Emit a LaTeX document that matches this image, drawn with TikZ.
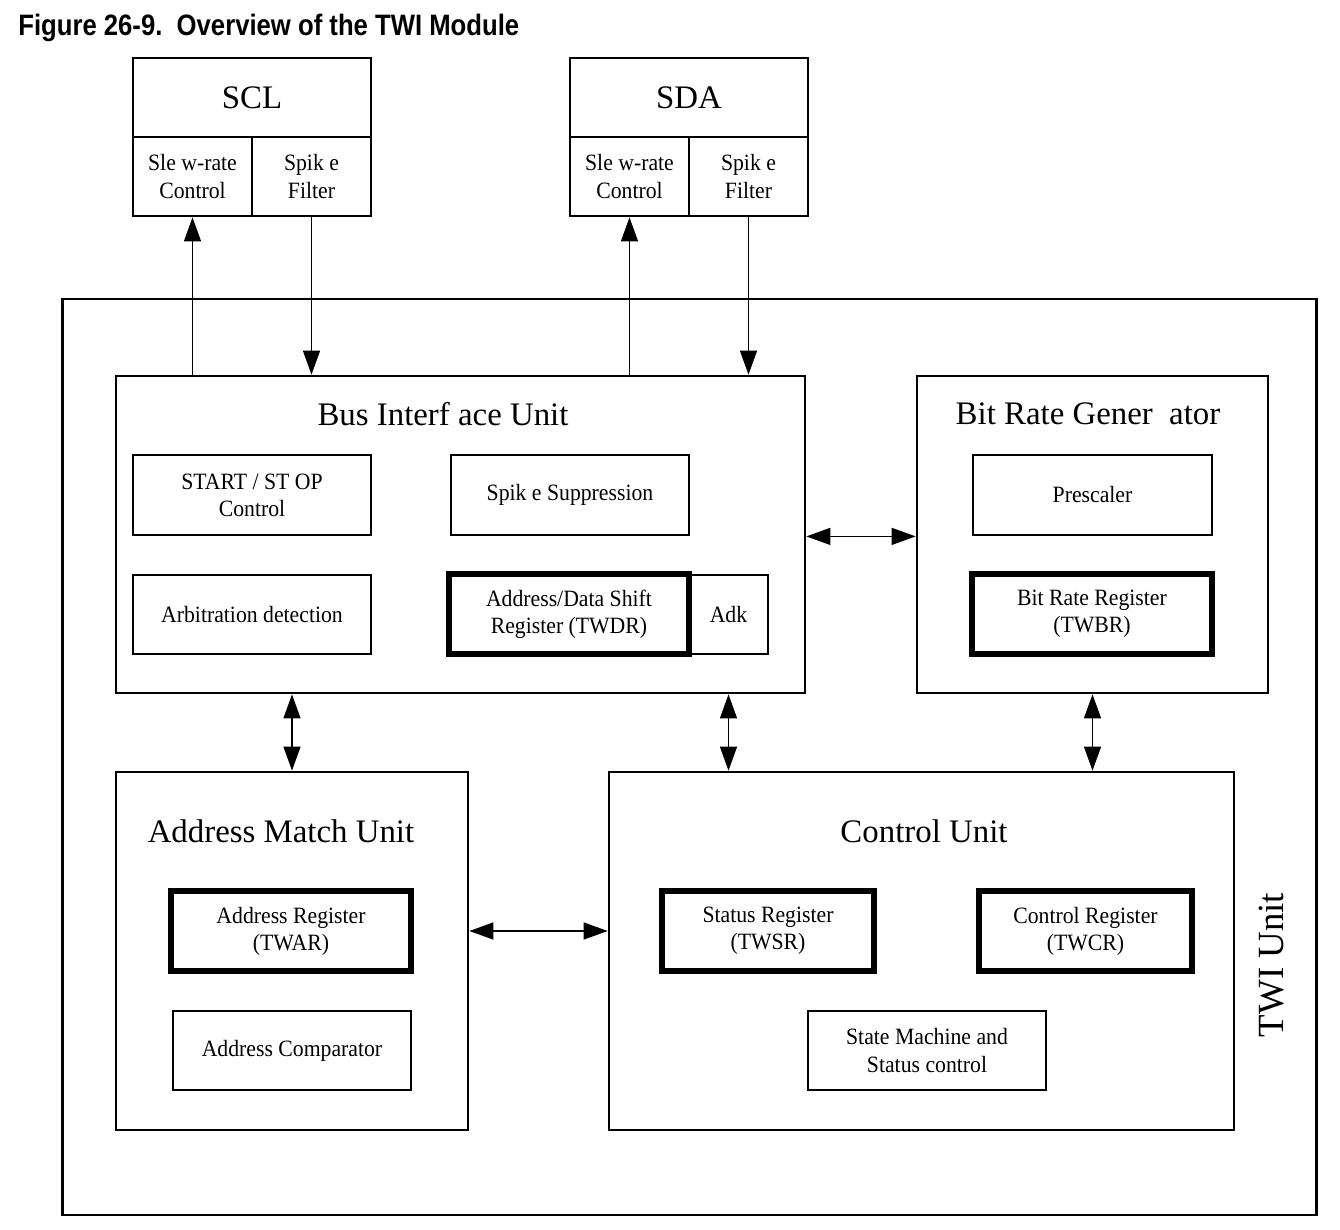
\documentclass[tikz,border=0pt]{standalone}
\usepackage{fontspec}
\setmainfont{Liberation Serif}
\newfontfamily\condfont[FakeStretch=0.93]{Liberation Serif}
\newfontfamily\titlefont[FakeStretch=0.87]{Liberation Sans}
\usetikzlibrary{arrows.meta}

\begin{document}
\begin{tikzpicture}[x=0.02cm, y=-0.02cm,
    >={Triangle[length=0.48cm,width=0.34cm]},
    blk/.style={draw, line width=1.6pt, inner sep=0pt, align=center,
        font=\condfont\fontsize{13.3}{15.5}\selectfont},
    reg/.style={blk, line width=2.9pt},
    unit/.style={draw, line width=1.6pt, inner sep=0pt},
    head/.style={font=\fontsize{18.7}{22}\selectfont},
    link/.style={line width=0.75pt}]
    \useasboundingbox (0,0) rectangle (1340,1230);

    \node[anchor=base west, inner sep=0pt, font=\titlefont\bfseries\fontsize{16.8}{19}\selectfont]
        (fig) at (18,36) {Figure 26-9.~~Overview of the TWI Module};

    % pads
    \node[blk, head, minimum width=4.76cm, minimum height=1.58cm] (scl) at (252,97.5) {SCL};
    \node[blk, minimum width=2.38cm, minimum height=1.58cm] (sclslew) at (192.5,176.5) {Sle w-rate\\Control};
    \node[blk, minimum width=2.38cm, minimum height=1.58cm] (sclspike) at (311.5,176.5) {Spik e\\Filter};
    \node[blk, head, minimum width=4.76cm, minimum height=1.58cm] (sda) at (689,97.5) {SDA};
    \node[blk, minimum width=2.38cm, minimum height=1.58cm] (sdaslew) at (629.5,176.5) {Sle w-rate\\Control};
    \node[blk, minimum width=2.38cm, minimum height=1.58cm] (sdaspike) at (748.5,176.5) {Spik e\\Filter};

    % TWI unit
    \node[unit, minimum width=25.1cm, minimum height=18.32cm] (twi) at (689.5,757) {};
    \node[rotate=90, font=\fontsize{21}{25}\selectfont] (twilbl) at (1272,965) {TWI Unit};

    % bus interface unit
    \node[unit, minimum width=13.78cm, minimum height=6.34cm] (biu) at (460.5,534.5) {};
    \node[head] (biulbl) at (443,414) {Bus Interf ace Unit};
    \node[blk, minimum width=4.76cm, minimum height=1.6cm] (startstop) at (252,495) {START / ST OP\\Control};
    \node[blk, minimum width=4.76cm, minimum height=1.6cm] (spksup) at (570,495) {Spik e Suppression};
    \node[blk, minimum width=4.76cm, minimum height=1.58cm] (arbit) at (252,614.5) {Arbitration detection};
    \node[reg, minimum width=4.8cm, minimum height=1.6cm] (twdr) at (569,614) {Address/Data Shift\\Register (TWDR)};
    \node[blk, minimum width=1.58cm, minimum height=1.58cm] (ack) at (728.5,614.5) {Adk};

    % bit rate generator
    \node[unit, minimum width=7.02cm, minimum height=6.34cm] (brg) at (1092.5,534.5) {};
    \node[head] (brglbl) at (1088,414) {Bit Rate Gener~~ator};
    \node[blk, minimum width=4.78cm, minimum height=1.6cm] (presc) at (1092.5,495) {Prescaler};
    \node[reg, minimum width=4.8cm, minimum height=1.6cm] (twbr) at (1092,614) {Bit Rate Register\\(TWBR)};

    % address match unit
    \node[unit, minimum width=7.04cm, minimum height=7.16cm] (amu) at (292,951) {};
    \node[head] (amulbl) at (281,831) {Address Match Unit};
    \node[reg, minimum width=4.8cm, minimum height=1.6cm] (twar) at (291,931) {Address Register\\(TWAR)};
    \node[blk, minimum width=4.76cm, minimum height=1.58cm] (addrcmp) at (292,1050.5) {Address Comparator};

    % control unit
    \node[unit, minimum width=12.5cm, minimum height=7.16cm] (cu) at (921.5,951) {};
    \node[head] (culbl) at (924,831) {Control Unit};
    \node[reg, minimum width=4.24cm, minimum height=1.6cm] (twsr) at (768,931) {Status Register\\(TWSR)};
    \node[reg, minimum width=4.26cm, minimum height=1.6cm] (twcr) at (1085.5,931) {Control Register\\(TWCR)};
    \node[blk, minimum width=4.76cm, minimum height=1.58cm] (fsm) at (927,1050.5) {State Machine and\\Status control};

    % pad lines
    \draw[link,->] (sclslew.south |- biu.north) -- (sclslew.south);
    \draw[link,->] (sclspike.south) -- (sclspike.south |- biu.north);
    \draw[link,->] (sdaslew.south |- biu.north) -- (sdaslew.south);
    \draw[link,->] (sdaspike.south) -- (sdaspike.south |- biu.north);

    % internal buses
    \draw[link,<->] (biu.east |- spksup.south) -- (brg.west |- spksup.south);
    \draw[link,<->] (biu.south -| amu.north) -- (amu.north);
    \draw[link,<->] (biu.south -| ack) -- (cu.north -| ack);
    \draw[link,<->] (brg.south) -- (brg.south |- cu.north);
    \draw[link,<->] (amu.east |- twar) -- (cu.west |- twar);
\end{tikzpicture}
\end{document}
